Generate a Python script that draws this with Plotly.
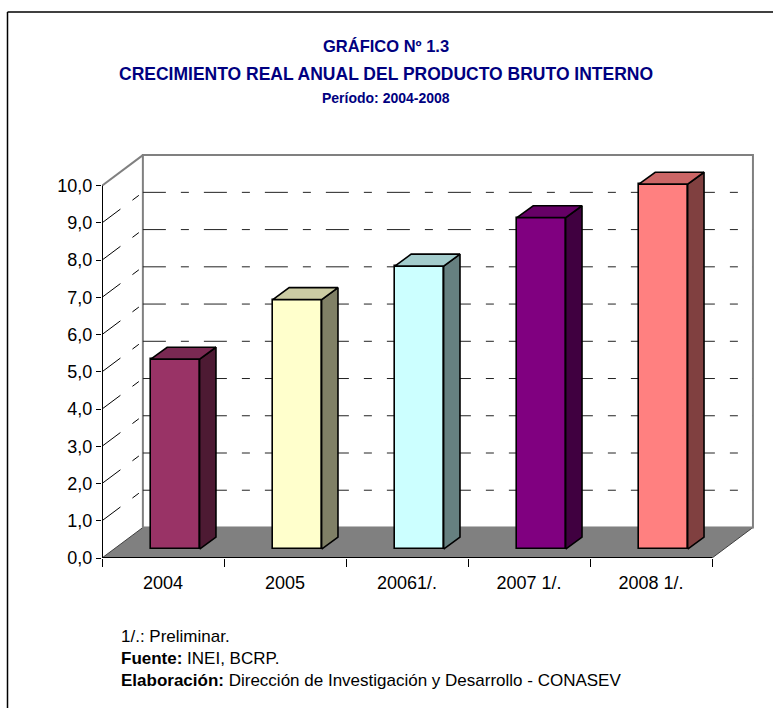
import plotly.graph_objects as go

# ---------------- data ----------------
categories = ["2004", "2005", "20061/.", "2007 1/.", "2008 1/."]
values = [5.1, 6.7, 7.6, 8.9, 9.8]
front_colors = ["#993366", "#FFFFCC", "#CCFFFF", "#800080", "#FF8080"]
side_colors = ["#4D1A33", "#808066", "#668080", "#400040", "#804040"]
top_colors = ["#7A2952", "#CCCCA3", "#A3CCCC", "#660066", "#CC6666"]
y_ticks = [0, 1, 2, 3, 4, 5, 6, 7, 8, 9, 10]

title_lines = ["GRÁFICO Nº 1.3",
               "CRECIMIENTO REAL ANUAL DEL PRODUCTO BRUTO INTERNO",
               "Período: 2004-2008"]
notes = ["1/.: Preliminar.",
         "<b>Fuente:</b> INEI, BCRP.",
         "<b>Elaboración:</b> Dirección de Investigación y Desarrollo - CONASEV"]

# ---------------- layout geometry ----------------
W, H = 773, 708
ML, MR, MT, MB = 102, 17, 154, 150
PW, PH = W - ML - MR, H - MT - MB

DX, DY = 0.335, 0.82      # oblique depth of the chart box (axis units)
FX, FY = 0.10, 0.24       # offset of bar front faces inside the box
BW = 0.40                 # bar width
BDX, BDY = 0.134, 0.32    # bar depth

n = len(categories)
X0, X1 = -0.5, n - 0.5
YMAX = max(y_ticks)
x_range = [X0, X1 + DX + 0.025]
y_range = [0, YMAX + DY + 0.03]

FONT = "Liberation Sans, Arial, sans-serif"


def px_x(px):
    return (px - ML) / PW


def px_y(py):
    return (H - MB - py) / PH


fig = go.Figure()

# front faces of the bars
fig.add_trace(go.Bar(
    x=[i + FX for i in range(n)], y=values, base=[FY] * n, width=BW,
    marker=dict(color=front_colors, line=dict(color="black", width=1.6)),
    hoverinfo="skip", showlegend=False))

# side and top faces
for i, v in enumerate(values):
    xl = i + FX - BW / 2
    xr = i + FX + BW / 2
    fig.add_trace(go.Scatter(
        x=[xr, xr, xr + BDX, xr + BDX, xr],
        y=[FY, FY + v, FY + v + BDY, FY + BDY, FY],
        mode="lines", fill="toself", fillcolor=side_colors[i],
        line=dict(color="black", width=1.6), hoverinfo="skip", showlegend=False))
    fig.add_trace(go.Scatter(
        x=[xl, xr, xr + BDX, xl + BDX, xl],
        y=[FY + v, FY + v, FY + v + BDY, FY + v + BDY, FY + v],
        mode="lines", fill="toself", fillcolor=top_colors[i],
        line=dict(color="black", width=1.6), hoverinfo="skip", showlegend=False))

shapes = []
# floor
shapes.append(dict(type="path", xref="x", yref="y", layer="below",
                   path=f"M {X0},0 L {X1},0 L {X1 + DX},{DY} L {X0 + DX},{DY} Z",
                   fillcolor="#808080", line=dict(color="#404040", width=1)))
# back wall outline
shapes.append(dict(type="rect", xref="x", yref="y", layer="below",
                   x0=X0 + DX, y0=DY, x1=X1 + DX, y1=YMAX + DY,
                   line=dict(color="#808080", width=2)))
# left wall top edge
shapes.append(dict(type="line", xref="x", yref="y", layer="below",
                   x0=X0, y0=YMAX, x1=X0 + DX, y1=YMAX + DY,
                   line=dict(color="#808080", width=2)))
# gridlines
for v in y_ticks[1:-1]:
    shapes.append(dict(type="line", xref="x", yref="y", layer="below",
                       x0=X0, y0=v, x1=X0 + DX, y1=v + DY,
                       line=dict(color="black", width=1, dash="23px,15px,8px,15px")))
    shapes.append(dict(type="line", xref="x", yref="y", layer="below",
                       x0=X0 + DX, y0=v + DY, x1=X1 + DX, y1=v + DY,
                       line=dict(color="#222222", width=1, dash="23px,15px,8px,15px")))
# front axes lines
shapes.append(dict(type="line", xref="x", yref="y", layer="above",
                   x0=X0, y0=0, x1=X1, y1=0, line=dict(color="black", width=2)))
shapes.append(dict(type="line", xref="x", yref="y", layer="above",
                   x0=X0, y0=0, x1=X0, y1=YMAX, line=dict(color="black", width=2)))
# outer frame (top and left edges visible in the picture)
shapes.append(dict(type="line", xref="paper", yref="paper",
                   x0=px_x(7.5), y0=px_y(12), x1=px_x(773), y1=px_y(12),
                   line=dict(color="black", width=1.5)))
shapes.append(dict(type="line", xref="paper", yref="paper",
                   x0=px_x(7.5), y0=px_y(12), x1=px_x(7.5), y1=px_y(708),
                   line=dict(color="black", width=1.5)))

annotations = []
title_y = [46, 74, 98]
title_size = [16.5, 17.5, 14]
for t, yy, s in zip(title_lines, title_y, title_size):
    annotations.append(dict(text=f"<b>{t}</b>", xref="paper", yref="paper",
                            x=px_x(386), y=px_y(yy), xanchor="center", yanchor="middle",
                            showarrow=False, font=dict(family=FONT, size=s, color="#000080")))
for t, yy in zip(notes, [636, 658, 680]):
    annotations.append(dict(text=t, xref="paper", yref="paper",
                            x=px_x(119), y=px_y(yy), xanchor="left", yanchor="middle",
                            showarrow=False, font=dict(family=FONT, size=17, color="black")))

fig.update_layout(
    width=W, height=H,
    margin=dict(l=ML, r=MR, t=MT, b=MB, pad=0),
    paper_bgcolor="white", plot_bgcolor="white",
    separators=",.",
    bargap=0,
    shapes=shapes, annotations=annotations,
    showlegend=False,
    xaxis=dict(range=x_range, tickvals=list(range(n)), ticktext=categories,
               ticks="", showgrid=False, zeroline=False, showline=False,
               ticklabelstandoff=12, automargin=False,
               tickfont=dict(family=FONT, size=18, color="black"),
               minor=dict(tickvals=[i - 0.5 for i in range(n + 1)], ticks="outside",
                          ticklen=8, tickwidth=1, tickcolor="black", showgrid=False)),
    yaxis=dict(range=y_range, tickvals=y_ticks, tickformat=".1f",
               ticks="outside", ticklen=5, tickwidth=1, tickcolor="black",
               showgrid=False, zeroline=False, showline=False, automargin=False,
               tickfont=dict(family=FONT, size=18, color="black")),
)

fig.write_html("out.html", config={"displayModeBar": False},
               post_script="document.body.style.margin='0';")
